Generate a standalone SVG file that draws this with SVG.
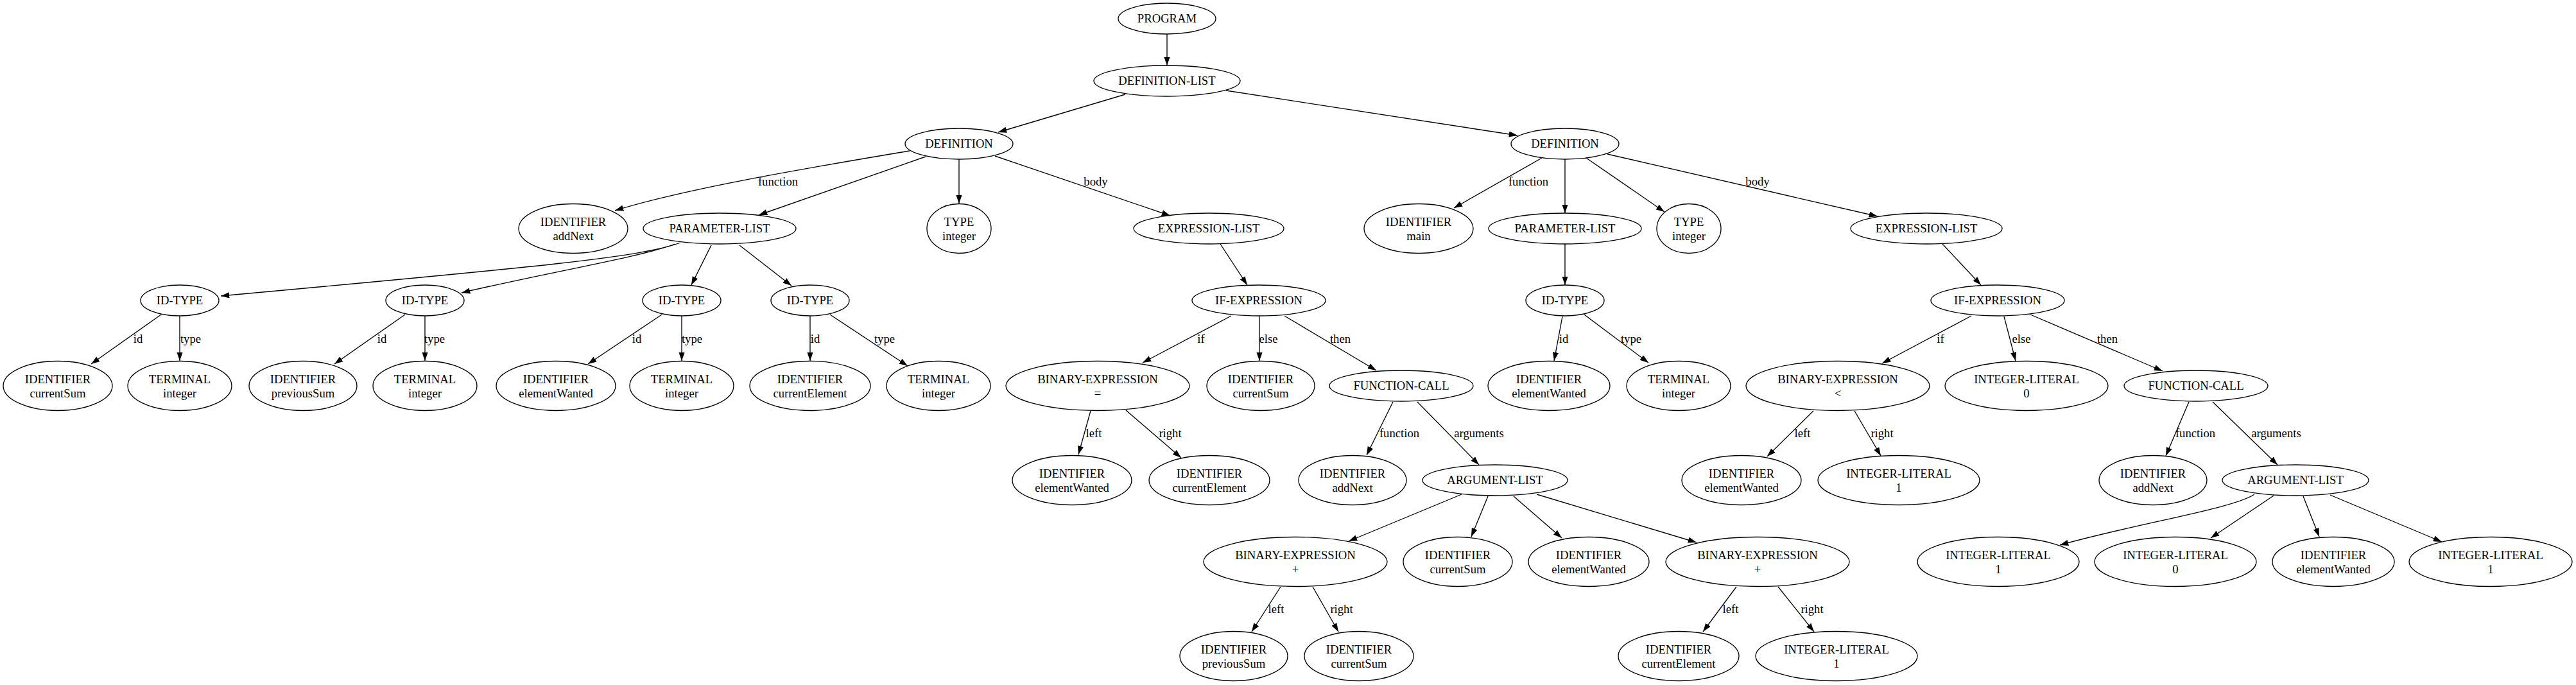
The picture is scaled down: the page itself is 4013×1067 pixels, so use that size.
<svg xmlns="http://www.w3.org/2000/svg" width="4013" height="1067" viewBox="0 0 4013 1067">
<style>
.n ellipse{fill:none;stroke:#000;stroke-width:1.33}
text{font-family:"Liberation Serif","Times New Roman",serif;font-size:18.67px;text-anchor:middle;fill:#000}
.e path{fill:none;stroke:#000;stroke-width:1.33;marker-end:url(#ah)}
</style>
<defs>
<marker id="ah" viewBox="0 0 10 7" refX="10" refY="3.5" markerWidth="13.3" markerHeight="9.3" markerUnits="userSpaceOnUse" orient="auto"><path d="M0,0 L10,3.5 L0,7 z" fill="#000"/></marker>
</defs>
<rect width="4013" height="1067" fill="#fff"/>
<g id="edges" class="e">
<path d="M1818,53 L1818,102"/>
<path d="M1753,147 L1555,206"/>
<path d="M1910,141 L2364,211"/>
<path d="M1417,235 C1300,255 1080,290 958,328"/>
<path d="M1442,244 L1182,335"/>
<path d="M1494,248 L1494,317"/>
<path d="M1550,243 L1823,336"/>
<path d="M2402,246 L2265,324"/>
<path d="M2438,248 L2438,332"/>
<path d="M2471,246 L2593,330"/>
<path d="M2504,240 L2925,337"/>
<path d="M1060,378 C1000,400 850,415 344,461"/>
<path d="M1052,380 C1000,400 850,425 719,456"/>
<path d="M1108,382 L1077,444"/>
<path d="M1152,382 L1233,445"/>
<path d="M1901,380 L1943,444"/>
<path d="M3026,380 L3086,444"/>
<path d="M2438,380 L2438,444"/>
<path d="M251,490 L142,567"/>
<path d="M280,492 L280,562"/>
<path d="M631,490 L521,567"/>
<path d="M662,492 L662,562"/>
<path d="M1031,490 L916,567"/>
<path d="M1062,492 L1062,562"/>
<path d="M1262,492 L1262,562"/>
<path d="M1293,490 L1414,570"/>
<path d="M1918,492 L1780,565"/>
<path d="M1962,493 L1962,562"/>
<path d="M2001,492 L2144,577"/>
<path d="M2434,493 L2421,562"/>
<path d="M2468,490 L2568,565"/>
<path d="M3071,492 L2932,566"/>
<path d="M3122,493 L3140,562"/>
<path d="M3163,490 L3369,578"/>
<path d="M1699,640 L1680,708"/>
<path d="M1754,639 L1840,713"/>
<path d="M2170,626 L2129,709"/>
<path d="M2208,626 L2304,724"/>
<path d="M2825,640 L2753,711"/>
<path d="M2889,640 L2930,710"/>
<path d="M3410,626 L3374,710"/>
<path d="M3447,626 L3548,724"/>
<path d="M2277,770 L2101,843"/>
<path d="M2318,773 L2292,836"/>
<path d="M2358,773 L2433,838"/>
<path d="M2394,770 L2643,845"/>
<path d="M3512,770 C3480,792 3330,815 3209,849"/>
<path d="M3542,772 L3444,838"/>
<path d="M3588,773 L3613,836"/>
<path d="M3630,771 L3804,844"/>
<path d="M1995,914 L1950,984"/>
<path d="M2045,914 L2085,984"/>
<path d="M2705,914 L2653,984"/>
<path d="M2770,914 L2826,984"/>
</g>
<g id="edge-labels">
<text x="1212" y="289">function</text>
<text x="1707" y="289">body</text>
<text x="2381" y="289">function</text>
<text x="2738" y="289">body</text>
<text x="215" y="534">id</text>
<text x="297" y="534">type</text>
<text x="595" y="534">id</text>
<text x="677" y="534">type</text>
<text x="992" y="534">id</text>
<text x="1078" y="534">type</text>
<text x="1270" y="534">id</text>
<text x="1378" y="534">type</text>
<text x="1871" y="534">if</text>
<text x="1976" y="534">else</text>
<text x="2088" y="534">then</text>
<text x="2436" y="534">id</text>
<text x="2541" y="534">type</text>
<text x="3023" y="534">if</text>
<text x="3149" y="534">else</text>
<text x="3283" y="534">then</text>
<text x="1704" y="681">left</text>
<text x="1823" y="681">right</text>
<text x="2180" y="681">function</text>
<text x="2304" y="681">arguments</text>
<text x="2808" y="681">left</text>
<text x="2932" y="681">right</text>
<text x="3420" y="681">function</text>
<text x="3546" y="681">arguments</text>
<text x="1988" y="955">left</text>
<text x="2090" y="955">right</text>
<text x="2696" y="955">left</text>
<text x="2823" y="955">right</text>
</g>
<g id="program" class="n"><ellipse cx="1818" cy="29" rx="76" ry="24"/><text x="1818" y="35">PROGRAM</text></g>
<g id="deflist" class="n"><ellipse cx="1818" cy="126" rx="114" ry="24"/><text x="1818" y="132">DEFINITION-LIST</text></g>
<g id="def1" class="n"><ellipse cx="1494" cy="224" rx="84" ry="24"/><text x="1494" y="230">DEFINITION</text></g>
<g id="def2" class="n"><ellipse cx="2438" cy="224" rx="84" ry="24"/><text x="2438" y="230">DEFINITION</text></g>
<g id="id-addnext1" class="n"><ellipse cx="893" cy="356" rx="85" ry="38.5"/><text x="893" y="352">IDENTIFIER</text><text x="893" y="374">addNext</text></g>
<g id="plist1" class="n"><ellipse cx="1121" cy="356" rx="119" ry="24"/><text x="1121" y="362">PARAMETER-LIST</text></g>
<g id="type1" class="n"><ellipse cx="1494" cy="356" rx="50" ry="38.5"/><text x="1494" y="352">TYPE</text><text x="1494" y="374">integer</text></g>
<g id="elist1" class="n"><ellipse cx="1883" cy="356" rx="117" ry="24"/><text x="1883" y="362">EXPRESSION-LIST</text></g>
<g id="id-main" class="n"><ellipse cx="2210" cy="356" rx="85" ry="38.5"/><text x="2210" y="352">IDENTIFIER</text><text x="2210" y="374">main</text></g>
<g id="plist2" class="n"><ellipse cx="2438" cy="356" rx="119" ry="24"/><text x="2438" y="362">PARAMETER-LIST</text></g>
<g id="type2" class="n"><ellipse cx="2631" cy="356" rx="50" ry="38.5"/><text x="2631" y="352">TYPE</text><text x="2631" y="374">integer</text></g>
<g id="elist2" class="n"><ellipse cx="3001" cy="356" rx="118" ry="24"/><text x="3001" y="362">EXPRESSION-LIST</text></g>
<g id="idt-a" class="n"><ellipse cx="280" cy="468" rx="61" ry="24"/><text x="280" y="474">ID-TYPE</text></g>
<g id="idt-b" class="n"><ellipse cx="662" cy="468" rx="61" ry="24"/><text x="662" y="474">ID-TYPE</text></g>
<g id="idt-c" class="n"><ellipse cx="1062" cy="468" rx="61" ry="24"/><text x="1062" y="474">ID-TYPE</text></g>
<g id="idt-d" class="n"><ellipse cx="1262" cy="468" rx="61" ry="24"/><text x="1262" y="474">ID-TYPE</text></g>
<g id="if1" class="n"><ellipse cx="1961" cy="468" rx="104" ry="24"/><text x="1961" y="474">IF-EXPRESSION</text></g>
<g id="idt-m" class="n"><ellipse cx="2438" cy="468" rx="61" ry="24"/><text x="2438" y="474">ID-TYPE</text></g>
<g id="if2" class="n"><ellipse cx="3112" cy="468" rx="104" ry="24"/><text x="3112" y="474">IF-EXPRESSION</text></g>
<g id="l5-1" class="n"><ellipse cx="90" cy="601" rx="85" ry="38.5"/><text x="90" y="597">IDENTIFIER</text><text x="90" y="619">currentSum</text></g>
<g id="l5-2" class="n"><ellipse cx="280" cy="601" rx="81" ry="38.5"/><text x="280" y="597">TERMINAL</text><text x="280" y="619">integer</text></g>
<g id="l5-3" class="n"><ellipse cx="472" cy="601" rx="84" ry="38.5"/><text x="472" y="597">IDENTIFIER</text><text x="472" y="619">previousSum</text></g>
<g id="l5-4" class="n"><ellipse cx="662" cy="601" rx="81" ry="38.5"/><text x="662" y="597">TERMINAL</text><text x="662" y="619">integer</text></g>
<g id="l5-5" class="n"><ellipse cx="866" cy="601" rx="93" ry="38.5"/><text x="866" y="597">IDENTIFIER</text><text x="866" y="619">elementWanted</text></g>
<g id="l5-6" class="n"><ellipse cx="1062" cy="601" rx="81" ry="38.5"/><text x="1062" y="597">TERMINAL</text><text x="1062" y="619">integer</text></g>
<g id="l5-7" class="n"><ellipse cx="1262" cy="601" rx="94" ry="38.5"/><text x="1262" y="597">IDENTIFIER</text><text x="1262" y="619">currentElement</text></g>
<g id="l5-8" class="n"><ellipse cx="1462" cy="601" rx="81" ry="38.5"/><text x="1462" y="597">TERMINAL</text><text x="1462" y="619">integer</text></g>
<g id="l5-9" class="n"><ellipse cx="1710" cy="601" rx="143" ry="38.5"/><text x="1710" y="597">BINARY-EXPRESSION</text><text x="1710" y="619">=</text></g>
<g id="l5-10" class="n"><ellipse cx="1964" cy="601" rx="84" ry="38.5"/><text x="1964" y="597">IDENTIFIER</text><text x="1964" y="619">currentSum</text></g>
<g id="fcall1" class="n"><ellipse cx="2183" cy="601" rx="112" ry="24"/><text x="2183" y="607">FUNCTION-CALL</text></g>
<g id="l5-12" class="n"><ellipse cx="2413" cy="601" rx="95" ry="38.5"/><text x="2413" y="597">IDENTIFIER</text><text x="2413" y="619">elementWanted</text></g>
<g id="l5-13" class="n"><ellipse cx="2615" cy="601" rx="81" ry="38.5"/><text x="2615" y="597">TERMINAL</text><text x="2615" y="619">integer</text></g>
<g id="l5-14" class="n"><ellipse cx="2863" cy="601" rx="143" ry="38.5"/><text x="2863" y="597">BINARY-EXPRESSION</text><text x="2863" y="619">&lt;</text></g>
<g id="l5-15" class="n"><ellipse cx="3157" cy="601" rx="127" ry="38.5"/><text x="3157" y="597">INTEGER-LITERAL</text><text x="3157" y="619">0</text></g>
<g id="fcall2" class="n"><ellipse cx="3421" cy="601" rx="112" ry="24"/><text x="3421" y="607">FUNCTION-CALL</text></g>
<g id="l6-1" class="n"><ellipse cx="1670" cy="748" rx="93" ry="38.5"/><text x="1670" y="744">IDENTIFIER</text><text x="1670" y="766">elementWanted</text></g>
<g id="l6-2" class="n"><ellipse cx="1884" cy="748" rx="94" ry="38.5"/><text x="1884" y="744">IDENTIFIER</text><text x="1884" y="766">currentElement</text></g>
<g id="l6-3" class="n"><ellipse cx="2107" cy="748" rx="84" ry="38.5"/><text x="2107" y="744">IDENTIFIER</text><text x="2107" y="766">addNext</text></g>
<g id="arglist1" class="n"><ellipse cx="2329" cy="748" rx="113" ry="24"/><text x="2329" y="754">ARGUMENT-LIST</text></g>
<g id="l6-5" class="n"><ellipse cx="2713" cy="748" rx="93" ry="38.5"/><text x="2713" y="744">IDENTIFIER</text><text x="2713" y="766">elementWanted</text></g>
<g id="l6-6" class="n"><ellipse cx="2958" cy="748" rx="126" ry="38.5"/><text x="2958" y="744">INTEGER-LITERAL</text><text x="2958" y="766">1</text></g>
<g id="l6-7" class="n"><ellipse cx="3354" cy="748" rx="84" ry="38.5"/><text x="3354" y="744">IDENTIFIER</text><text x="3354" y="766">addNext</text></g>
<g id="arglist2" class="n"><ellipse cx="3576" cy="748" rx="114" ry="24"/><text x="3576" y="754">ARGUMENT-LIST</text></g>
<g id="l7-1" class="n"><ellipse cx="2018" cy="875" rx="143" ry="38.5"/><text x="2018" y="871">BINARY-EXPRESSION</text><text x="2018" y="893">+</text></g>
<g id="l7-2" class="n"><ellipse cx="2271" cy="875" rx="85" ry="38.5"/><text x="2271" y="871">IDENTIFIER</text><text x="2271" y="893">currentSum</text></g>
<g id="l7-3" class="n"><ellipse cx="2475" cy="875" rx="94" ry="38.5"/><text x="2475" y="871">IDENTIFIER</text><text x="2475" y="893">elementWanted</text></g>
<g id="l7-4" class="n"><ellipse cx="2738" cy="875" rx="143" ry="38.5"/><text x="2738" y="871">BINARY-EXPRESSION</text><text x="2738" y="893">+</text></g>
<g id="l7-5" class="n"><ellipse cx="3113" cy="875" rx="126" ry="38.5"/><text x="3113" y="871">INTEGER-LITERAL</text><text x="3113" y="893">1</text></g>
<g id="l7-6" class="n"><ellipse cx="3389" cy="875" rx="126" ry="38.5"/><text x="3389" y="871">INTEGER-LITERAL</text><text x="3389" y="893">0</text></g>
<g id="l7-7" class="n"><ellipse cx="3635" cy="875" rx="95" ry="38.5"/><text x="3635" y="871">IDENTIFIER</text><text x="3635" y="893">elementWanted</text></g>
<g id="l7-8" class="n"><ellipse cx="3880" cy="875" rx="127" ry="38.5"/><text x="3880" y="871">INTEGER-LITERAL</text><text x="3880" y="893">1</text></g>
<g id="l8-1" class="n"><ellipse cx="1922" cy="1022" rx="84" ry="38.5"/><text x="1922" y="1018">IDENTIFIER</text><text x="1922" y="1040">previousSum</text></g>
<g id="l8-2" class="n"><ellipse cx="2117" cy="1022" rx="85" ry="38.5"/><text x="2117" y="1018">IDENTIFIER</text><text x="2117" y="1040">currentSum</text></g>
<g id="l8-3" class="n"><ellipse cx="2615" cy="1022" rx="94" ry="38.5"/><text x="2615" y="1018">IDENTIFIER</text><text x="2615" y="1040">currentElement</text></g>
<g id="l8-4" class="n"><ellipse cx="2861" cy="1022" rx="126" ry="38.5"/><text x="2861" y="1018">INTEGER-LITERAL</text><text x="2861" y="1040">1</text></g>
</svg>
